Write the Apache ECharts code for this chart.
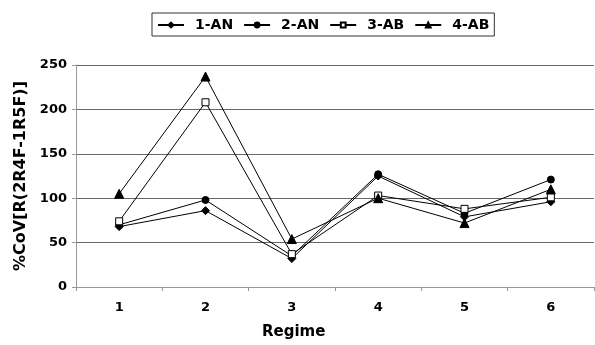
<!DOCTYPE html>
<html><head><meta charset="utf-8">
<script src="https://cdn.jsdelivr.net/npm/echarts@6/dist/echarts.min.js"></script>
<style>html,body{margin:0;padding:0;background:#fff}#c{width:595px;height:345px}</style>
</head><body><div id="c"></div>
<script>
const categories = ['1','2','3','4','5','6'];
const s1AN = [68, 86, 32, 125, 79, 96];
const s2AN = [70, 98, 35, 127, 83, 121];
const s3AB = [74, 208, 37, 103, 88, 101];
const s4AB = [105, 237, 54, 100, 72, 110];
const yTicks = {min: 0, max: 250, interval: 50};

const font = 'DejaVu Sans';
function ser(name, data, symbol, size, fill) {
  return {
    name, type: 'line', data, symbol, symbolSize: size,
    lineStyle: {color: '#000', width: 1},
    itemStyle: {color: fill, borderColor: '#000', borderWidth: 1},
    emphasis: {disabled: true}, animation: false
  };
}
const chart = echarts.init(document.getElementById('c'));
chart.setOption({
  animation: false,
  title: {
    text: 'Regime', left: 262, top: 325,
    textStyle: {fontFamily: font, fontWeight: 'bold', fontSize: 15, color: '#000'},
    padding: 0
  },
  grid: {left: 76, right: 1, top: 65, bottom: 58},
  legend: {
    left: 152, top: 13, width: 360,
    itemGap: 10, itemWidth: 26, itemHeight: 6,
    padding: [5, 5, 4, 5],
    borderColor: '#333', borderWidth: 1,
    textStyle: {fontFamily: font, fontWeight: 'bold', fontSize: 14, color: '#000', padding: [0, 0, 0, 6]},
    data: ['1-AN', '2-AN', '3-AB', '4-AB']
  },
  xAxis: {
    type: 'category', data: categories, boundaryGap: true,
    axisLine: {lineStyle: {color: '#999', width: 1}},
    axisTick: {show: true, length: 4, inside: false, lineStyle: {color: '#999'}},
    axisLabel: {fontFamily: font, fontWeight: 'bold', fontSize: 13, color: '#000', margin: 14},
    splitLine: {show: false}
  },
  yAxis: {
    type: 'value', min: yTicks.min, max: yTicks.max, interval: yTicks.interval,
    name: '%CoV[R(2R4F-1R5F)]', nameLocation: 'middle', nameGap: 46,
    nameTextStyle: {fontFamily: font, fontWeight: 'bold', fontSize: 16, color: '#000'},
    axisLine: {show: true, lineStyle: {color: '#999', width: 1}},
    axisTick: {show: true, length: 4, lineStyle: {color: '#999'}},
    axisLabel: {fontFamily: font, fontWeight: 'bold', fontSize: 13, color: '#000', margin: 9},
    splitLine: {show: true, lineStyle: {color: '#666', width: 1}}
  },
  series: [
    ser('1-AN', s1AN, 'diamond', 8, '#000'),
    ser('2-AN', s2AN, 'circle', 7, '#000'),
    ser('3-AB', s3AB, 'rect', 7, '#fff'),
    ser('4-AB', s4AB, 'triangle', 9, '#000')
  ]
});
</script></body></html>
